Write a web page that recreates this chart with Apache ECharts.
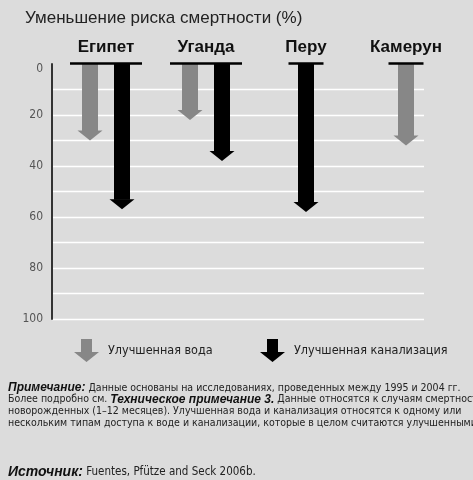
<!DOCTYPE html>
<html><head><meta charset="utf-8">
<script src="https://cdn.jsdelivr.net/npm/echarts@6/dist/echarts.min.js"></script>
<style>html,body{margin:0;padding:0;background:#dcdcdc;}#c{width:473px;height:480px;}</style>
</head><body><div id="c"></div>
<script>
var categories = ['Египет', 'Уганда', 'Перу', 'Камерун'];
var waterValues = [30, 22, null, 32];
var sanitationValues = [57, 38, 58, null];
var yTicks = [0, 20, 40, 60, 80, 100];
var seriesNames = ['Улучшенная вода', 'Улучшенная канализация'];
var titleText = 'Уменьшение риска смертности (%)';
var noteLines = [
  '{b|Примечание:} Данные основаны на исследованиях, проведенных между 1995 и 2004 гг.',
  'Более подробно см. {b|Техническое примечание 3.} Данные относятся к случаям смертности',
  'новорожденных (1–12 месяцев). Улучшенная вода и канализация относятся к одному или',
  'нескольким типам доступа к воде и канализации, которые в целом считаются улучшенными.'
];
var sourceText = '{b|Источник:} Fuentes, Pfütze and Seck 2006b.';

var NARROW = "'Liberation Sans Narrow', 'DejaVu Sans Condensed', sans-serif";
var SANS = "'Liberation Sans', Arial, sans-serif";
var GRAY = '#878787';
var ARROW_PATH = 'path://M7,0 L18,0 L18,13 L25,13 L12.5,23 L0,13 L7,13 Z';

function hasBoth(i) { return waterValues[i] != null && sanitationValues[i] != null; }

function arrowRender(offsetSign, color) {
  return function (params, api) {
    var i = api.value(0);
    var v = api.value(1);
    var off = hasBoth(i) ? offsetSign * 16 : 0;
    var top = api.coord([i, 0]);
    var tip = api.coord([i, v]);
    var x = top[0] + off;
    var sw = 8, hw = 12.5, hh = 10;
    var y0 = top[1], y1 = tip[1];
    return {
      type: 'group',
      children: [
        { type: 'rect', shape: { x: x - sw, y: y0, width: sw * 2, height: y1 - hh - y0 + 0.5 },
          style: { fill: color, lineWidth: 0 } },
        { type: 'polygon', shape: { points: [[x + hw, y1 - hh], [x, y1], [x - hw, y1 - hh]] },
          style: { fill: color, lineWidth: 0 } }
      ]
    };
  };
}

function toData(arr) {
  var out = [];
  arr.forEach(function (v, i) { if (v != null) out.push([i, v]); });
  return out;
}

var chart = echarts.init(document.getElementById('c'), null, { renderer: 'canvas' });
chart.setOption({
  backgroundColor: '#dcdcdc',
  animation: false,
  grid: [
    { left: 52, right: 49, top: 64, bottom: 161 },
    { left: 56, right: 17, top: 64, bottom: 161 }
  ],
  xAxis: [
    { gridIndex: 0, type: 'value', show: false },
    { gridIndex: 1, type: 'category', position: 'top', data: categories,
      axisLine: { show: false }, axisTick: { show: false }, splitLine: { show: false },
      axisLabel: { margin: 8, color: '#111', fontFamily: SANS, fontWeight: 'bold', fontSize: 17 } }
  ],
  yAxis: [
    { gridIndex: 0, type: 'value', inverse: true, min: 0, max: 100, interval: 10,
      axisLine: { show: true, lineStyle: { color: '#333', width: 2 } },
      axisTick: { show: false },
      splitLine: { show: true, showMinLine: false, lineStyle: { color: '#ffffff', width: 1.3 } },
      axisLabel: { margin: 9, color: '#555', fontFamily: NARROW, fontSize: 12,
        formatter: function (v) { if (yTicks.indexOf(v) < 0) return ''; return v === 0 ? '{z|0}' : String(v); },
        rich: { z: { padding: [10, 0, 0, 0], color: '#555', fontFamily: NARROW, fontSize: 12 } } } },
    { gridIndex: 1, type: 'value', inverse: true, min: 0, max: 100, show: false }
  ],
  legend: [
    { data: [seriesNames[0]], left: 74, top: 339, padding: 0, itemWidth: 27, itemHeight: 23, icon: ARROW_PATH,
      selectedMode: false, textStyle: { color: '#222', fontFamily: NARROW, fontSize: 12.5, padding: [0, 0, 0, 3] } },
    { data: [seriesNames[1]], left: 260, top: 339, padding: 0, itemWidth: 27, itemHeight: 23, icon: ARROW_PATH,
      selectedMode: false, textStyle: { color: '#222', fontFamily: NARROW, fontSize: 12.5, padding: [0, 0, 0, 3] } }
  ],
  graphic: [
    { type: 'text', left: 25, top: 10, style: { text: titleText, fill: '#222', font: '17px ' + SANS } },
    { type: 'text', left: 8, top: 382, style: {
      text: noteLines.join('\n'), fill: '#222', fontFamily: NARROW, fontSize: 10.5, lineHeight: 11.7,
      rich: { b: { fontFamily: SANS, fontStyle: 'italic', fontWeight: 'bold', fontSize: 12, fill: '#111', lineHeight: 11.7 } } } },
    { type: 'text', left: 8, top: 465, style: {
      text: sourceText, fill: '#222', fontFamily: NARROW, fontSize: 11.5,
      rich: { b: { fontFamily: SANS, fontStyle: 'italic', fontWeight: 'bold', fontSize: 14, fill: '#111' } } } }
  ],
  series: [
    { type: 'custom', name: 'baseline', xAxisIndex: 1, yAxisIndex: 1, silent: true, z: 3,
      data: categories.map(function (c, i) { return [i, 0]; }),
      renderItem: function (params, api) {
        var i = api.value(0);
        var p = api.coord([i, 0]);
        var w = hasBoth(i) ? 72 : 35;
        return { type: 'line', shape: { x1: p[0] - w / 2, y1: p[1] - 0.5, x2: p[0] + w / 2, y2: p[1] - 0.5 },
          style: { stroke: '#000', lineWidth: 2.5 } };
      } },
    { type: 'custom', name: seriesNames[0], xAxisIndex: 1, yAxisIndex: 1, z: 2,
      emphasis: { disabled: true },
      itemStyle: { color: GRAY }, data: toData(waterValues), renderItem: arrowRender(-1, GRAY) },
    { type: 'custom', name: seriesNames[1], xAxisIndex: 1, yAxisIndex: 1, z: 2,
      emphasis: { disabled: true },
      itemStyle: { color: '#000' }, data: toData(sanitationValues), renderItem: arrowRender(1, '#000') }
  ]
});
</script></body></html>
